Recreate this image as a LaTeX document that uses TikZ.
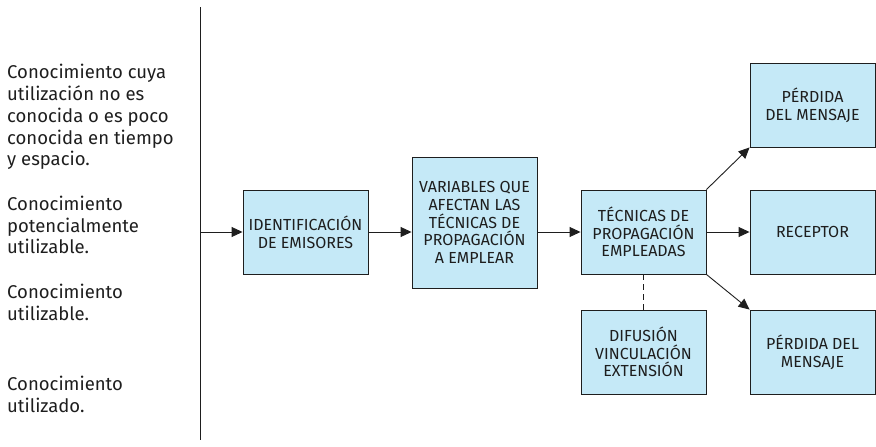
\documentclass[tikz,border=0pt]{standalone}
\usepackage{fontspec}
\setmainfont{Fira Sans}
\usetikzlibrary{arrows.meta}
\definecolor{boxfill}{HTML}{C5E9F7}
\definecolor{ink}{HTML}{1E1E1E}
\begin{document}
\begin{tikzpicture}[x=1pt,y=-1pt,
  box/.style={draw=ink,line width=0.9pt,fill=boxfill,minimum width=125pt,minimum height=84pt,
    inner sep=0pt,align=center,font=\fontsize{16}{17.8}\selectfont,text=ink},
  lefttext/.style={anchor=west,align=left,inner sep=0pt,font=\fontsize{18.5}{21.8}\selectfont,text=ink},
  conn/.style={draw=ink,line width=0.9pt,-{Triangle[length=11pt,width=10pt]}}]
\useasboundingbox (0,0) rectangle (876,447);
\coordinate (lt) at (200,7);
\coordinate (lb) at (200,440);
\coordinate (ls) at (200,232);
\draw[ink,line width=1pt] (lt) -- (lb);
\node[lefttext] (t1) at (7,117) {Conocimiento cuya\\utilización no es\\conocida o es poco\\conocida en tiempo\\y espacio.};
\node[lefttext] (t2) at (7,225) {Conocimiento\\potencialmente\\utilizable.};
\node[lefttext] (t3) at (7,302) {Conocimiento\\utilizable.};
\node[lefttext] (t4) at (7,394) {Conocimiento\\utilizado.};
\node[box] (b1) at (305.5,232) {IDENTIFICACIÓN\\DE EMISORES};
\node[box,minimum height=131pt] (b2) at (474.5,222.5) {VARIABLES QUE\\AFECTAN LAS\\TÉCNICAS DE\\PROPAGACIÓN\\A EMPLEAR};
\node[box] (b3) at (643.5,232) {TÉCNICAS DE\\PROPAGACIÓN\\EMPLEADAS};
\node[box] (p1) at (812.5,105) {PÉRDIDA\\DEL MENSAJE};
\node[box] (rc) at (812.5,232) {RECEPTOR};
\node[box] (p2) at (812.5,352) {PÉRDIDA DEL\\MENSAJE};
\node[box] (df) at (643.5,352) {DIFUSIÓN\\VINCULACIÓN\\EXTENSIÓN};
\draw[conn] (ls) -- (b1.west);
\draw[conn] (b1.east) -- (b2.west |- b1.east);
\draw[conn] (b2.east |- b3.west) -- (b3.west);
\draw[conn] (b3.east) -- (rc.west);
\draw[conn] (b3.north east) -- (p1.south west);
\draw[conn] (b3.south east) -- (p2.north west);
\draw[ink,line width=0.9pt,dash pattern=on 6pt off 4pt] (b3.south) -- (df.north);
\end{tikzpicture}
\end{document}
